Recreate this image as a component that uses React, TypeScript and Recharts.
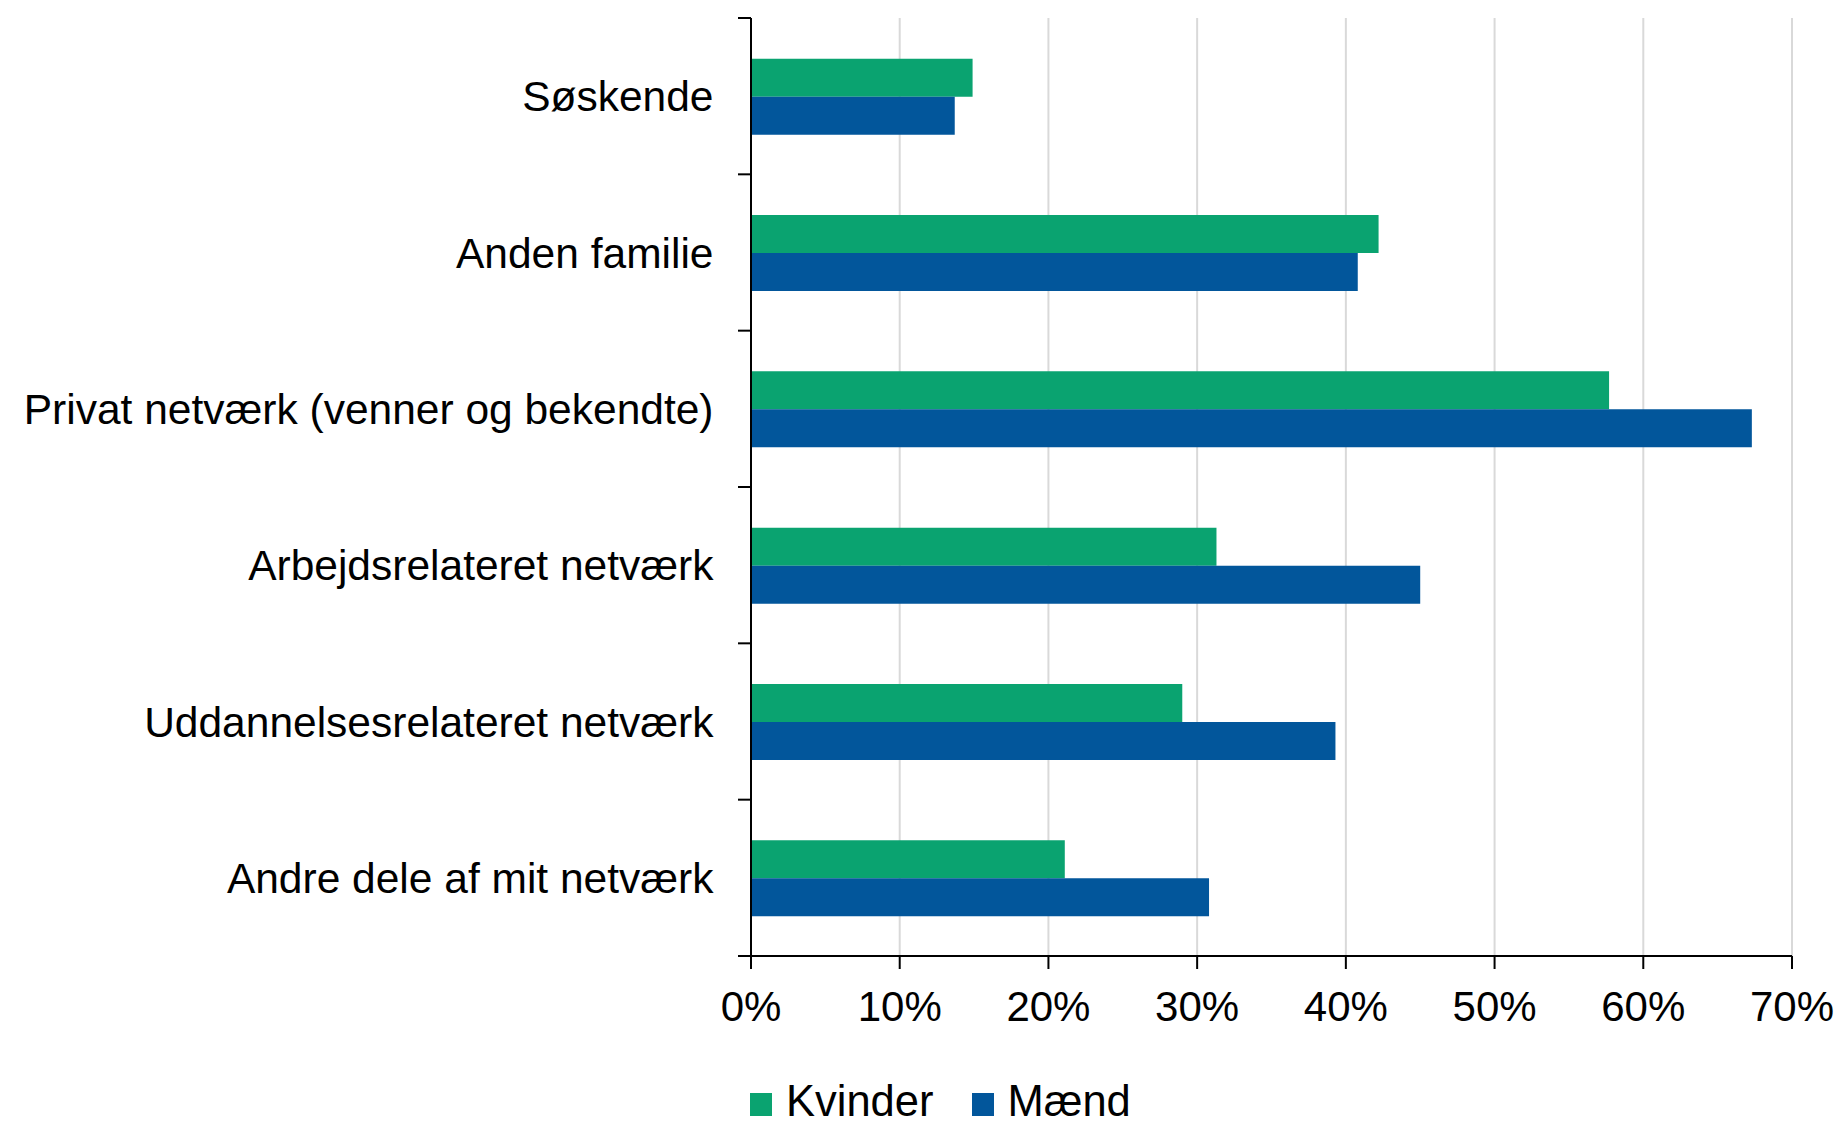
import { BarChart, Bar, XAxis, YAxis, CartesianGrid, Legend } from "recharts";

const categories = [
  "Søskende",
  "Anden familie",
  "Privat netværk (venner og bekendte)",
  "Arbejdsrelateret netværk",
  "Uddannelsesrelateret netværk",
  "Andre dele af mit netværk",
];
const kvinder = [14.9, 42.2, 57.7, 31.3, 29.0, 21.1];
const maend = [13.7, 40.8, 67.3, 45.0, 39.3, 30.8];
const xTicks = [0, 10, 20, 30, 40, 50, 60, 70];

const GREEN = "#0aa370";
const BLUE = "#02569b";
const FONT = "'Liberation Sans', Arial, sans-serif";
const TICK_SIZE = 13;
const TICK_MARGIN = 24.5;

const data = categories.map((name, i) => ({ name, Kvinder: kvinder[i], Mænd: maend[i] }));

const legendItems = [
  { label: "Kvinder", color: GREEN },
  { label: "Mænd", color: BLUE },
];

// Excel style: category ticks sit on the band edges, labels in the middle
function CategoryTick(props: any) {
  const { x, y, payload, index, visibleTicksCount, height } = props;
  const band = height / visibleTicksCount;
  const lx = x + TICK_MARGIN;
  const edges = [y - band / 2];
  if (index === visibleTicksCount - 1) edges.push(y + band / 2);
  return (
    <g>
      {edges.map((ey, k) => (
        <line key={k} x1={lx} x2={lx + TICK_SIZE} y1={ey} y2={ey} stroke="#000" strokeWidth={2} />
      ))}
      <text x={x} y={y} dy="0.355em" textAnchor="end" fill="#000" fontSize={42.5} fontFamily={FONT}>
        {payload.value}
      </text>
    </g>
  );
}

function LegendBox() {
  return (
    <div style={{ display: "flex", alignItems: "center", fontFamily: FONT, fontSize: 43.5, lineHeight: "36px", color: "#000" }}>
      {legendItems.map((it) => (
        <div key={it.label} style={{ display: "flex", alignItems: "center", marginRight: 38 }}>
          <span style={{ display: "inline-block", width: 22, height: 23, background: it.color, marginRight: 14, marginTop: 6 }} />
          <span>{it.label}</span>
        </div>
      ))}
    </div>
  );
}

export default function App() {
  return (
    <div style={{ position: "absolute", left: 0, top: 0, width: 1840, height: 1125, background: "#fff" }}>
      <BarChart
        width={1840}
        height={1125}
        data={data}
        layout="vertical"
        margin={{ top: 18, right: 48, left: 0, bottom: 0 }}
        barCategoryGap="26%"
        barGap={0}
      >
        <CartesianGrid horizontal={false} stroke="#d9d9d9" strokeWidth={2} />
        <XAxis
          type="number"
          domain={[0, 70]}
          ticks={xTicks}
          tickFormatter={(v) => `${v}%`}
          height={133}
          tickSize={TICK_SIZE}
          tickMargin={22}
          axisLine={{ stroke: "#000", strokeWidth: 2 }}
          tickLine={{ stroke: "#000", strokeWidth: 2 }}
          tick={{ fill: "#000", fontSize: 42, fontFamily: FONT }}
        />
        <YAxis
          type="category"
          dataKey="name"
          width={751}
          axisLine={{ stroke: "#000", strokeWidth: 2 }}
          tickLine={false}
          tickSize={TICK_SIZE}
          tickMargin={TICK_MARGIN}
          interval={0}
          tick={<CategoryTick />}
        />
        <Legend
          verticalAlign="bottom"
          content={() => <LegendBox />}
          wrapperStyle={{ top: 1083, left: 750, bottom: "auto", width: "auto" }}
        />
        <Bar dataKey="Kvinder" fill={GREEN} isAnimationActive={false} />
        <Bar dataKey="Mænd" fill={BLUE} isAnimationActive={false} />
      </BarChart>
    </div>
  );
}
